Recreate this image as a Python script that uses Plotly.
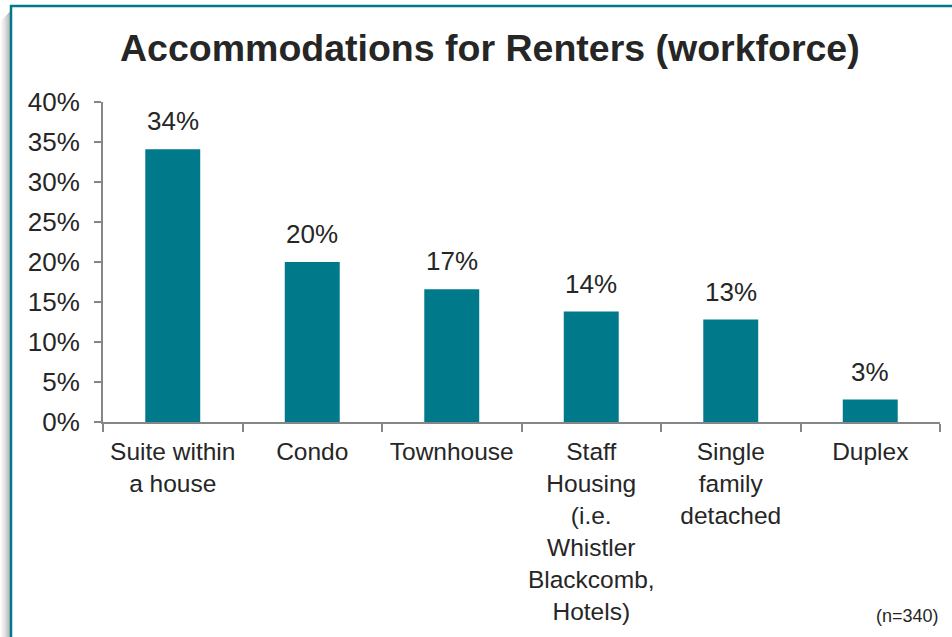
import plotly.graph_objects as go

categories = ["Suite within<br>a house", "Condo", "Townhouse",
              "Staff<br>Housing<br>(i.e.<br>Whistler<br>Blackcomb,<br>Hotels)",
              "Single<br>family<br>detached", "Duplex"]
values = [34.1, 20.0, 16.6, 13.8, 12.8, 2.8]
labels = ["34%", "20%", "17%", "14%", "13%", "3%"]
y_ticks = [0, 5, 10, 15, 20, 25, 30, 35, 40]
y_tick_text = ["0%", "5%", "10%", "15%", "20%", "25%", "30%", "35%", "40%"]

TEAL = "#007A8A"
AXIS = "#868686"
TEXT = "#262626"
FONT = "Liberation Sans, Arial, sans-serif"

W, H = 952, 637
L, R, T, B = 103, 12, 102, 215
pw, ph = W - L - R, H - T - B

def px_x(x):
    return (x - L) / pw

def px_y(y):
    return (H - B - y) / ph

fig = go.Figure()
fig.add_trace(go.Bar(x=categories, y=values, marker=dict(color=TEAL, line=dict(width=0)),
                     hoverinfo="skip"))

for c, v, t in zip(categories, values, labels):
    fig.add_annotation(x=c, y=v, text=t, showarrow=False, yanchor="bottom",
                       yshift=11, font=dict(size=26, color=TEXT, family=FONT))

fig.add_annotation(xref="paper", yref="paper", x=px_x(490), y=px_y(48),
                   text="<b>Accommodations for Renters (workforce)</b>", showarrow=False,
                   xanchor="center", yanchor="middle",
                   font=dict(size=37.5, color=TEXT, family=FONT))
fig.add_annotation(xref="paper", yref="paper", x=px_x(941), y=px_y(616),
                   text="(n=340)", showarrow=False, xanchor="right", yanchor="middle",
                   font=dict(size=18, color=TEXT, family=FONT))

# shadow and frame
for i, op in enumerate([0.05, 0.08, 0.12, 0.16, 0.2, 0.25, 0.3, 0.35, 0.4]):
    x = 1 + i
    fig.add_shape(type="line", xref="paper", yref="paper",
                  x0=px_x(x + 0.5), x1=px_x(x + 0.5), y0=px_y(12 + (8 - i)), y1=px_y(H + 5),
                  line=dict(color=f"rgba(80,80,80,{op})", width=1))
fig.add_shape(type="line", xref="paper", yref="paper",
              x0=px_x(11), x1=px_x(11), y0=px_y(5), y1=px_y(H + 5),
              line=dict(color=TEAL, width=2.5))
fig.add_shape(type="line", xref="paper", yref="paper",
              x0=px_x(10), x1=px_x(W + 5), y0=px_y(6), y1=px_y(6),
              line=dict(color=TEAL, width=2.5))

fig.update_layout(
    width=W, height=H,
    margin=dict(l=L, r=R, t=T, b=B, pad=0, autoexpand=False),
    paper_bgcolor="white", plot_bgcolor="white",
    bargap=0.606, showlegend=False,
    font=dict(family=FONT, color=TEXT, size=26),
    xaxis=dict(type="category", tickson="boundaries", ticks="outside", ticklen=8,
               tickcolor=AXIS, tickwidth=2, showline=True, linecolor=AXIS, linewidth=2,
               showgrid=False, tickfont=dict(size=24.5, color=TEXT, family=FONT),
               tickangle=0, ticklabelstandoff=7, automargin=False),
    yaxis=dict(range=[0, 40], tickvals=y_ticks, ticktext=y_tick_text, ticks="outside",
               ticklen=7, tickcolor=AXIS, tickwidth=2, showline=True, linecolor=AXIS,
               linewidth=2, showgrid=False, zeroline=False, automargin=False,
               tickfont=dict(size=26, color=TEXT, family=FONT), ticklabelstandoff=9),
)

fig.write_html("out.html", config={"displayModeBar": False},
               post_script="document.body.style.margin='0';document.body.style.overflow='hidden';")
